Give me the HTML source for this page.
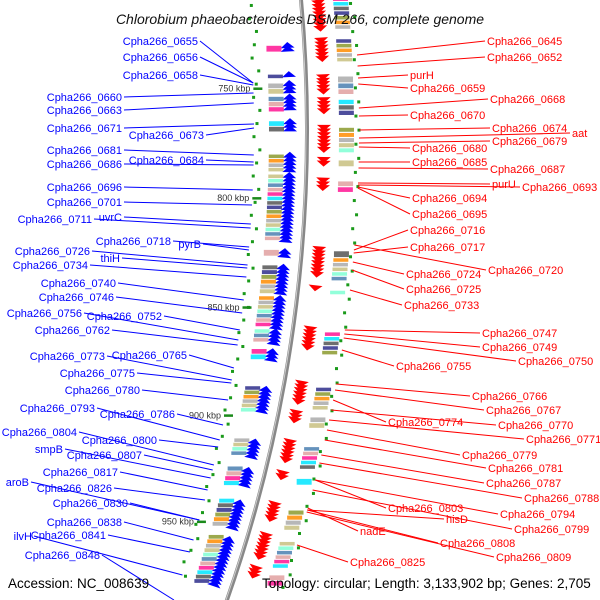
<!DOCTYPE html>
<html><head><meta charset="utf-8"><style>
body{margin:0;background:#fff}
svg{display:block}
text{font-family:"Liberation Sans",sans-serif}
</style></head><body>
<svg id="c" width="600" height="600" viewBox="0 0 600 600">
<rect width="600" height="600" fill="#fff"/>
<g id="feat"></g>
<g id="labs"></g>
<text x="300" y="24" text-anchor="middle" font-size="14" font-style="italic" fill="#111">Chlorobium phaeobacteroides DSM 266, complete genome</text>
<text x="8" y="588" font-size="13.5" fill="#000">Accession: NC_008639</text>
<text x="262" y="588" font-size="13.5" fill="#000">Topology: circular; Length: 3,133,902 bp; Genes: 2,705</text>
</svg>
<script>
const CX=-1113, CY=130, R=1420;
const tickKbp=[750,800,850,900,950];
const fwdGenes=[[712,725],[730,739],[746,748],[749,753],[756,762],[768,778],[782,784],[791,795],[821,823],[824,833],[838,839],[856,865],[880,889],[893,897],[906,915],[920,922],[934,942],[948,959],[963,967]];
const revGenes=[[731,733],[744,745],[748,752],[754,760],[765,769],[780,787],[789,818],[823,825],[830,842],[844,857],[859,864],[868,872],[885,896],[909,916],[922,930],[937,949],[954,976]];
const boxColors=['#ff1493','#00e5ff','#555','#2e2e8b','#8b9a2e','#ff8c00','#aaa','#c8c080','#7fffd4','#4a7fb0','#e0a0a0'];
const leftLabels=[["Cpha266_0655",198,45,83],["Cpha266_0656",198,61,83],["Cpha266_0658",198,79,85],["Cpha266_0660",122,101,93],["Cpha266_0663",122,114,103],["Cpha266_0671",122,132,124],["Cpha266_0673",204,139,128],["Cpha266_0681",122,154,155],["Cpha266_0686",122,168,165],["Cpha266_0684",204,164,162],["Cpha266_0696",122,191,190],["Cpha266_0701",122,206,205],["Cpha266_0711",92,223,228],["uvrC",122,221,224],["Cpha266_0718",171,245,247],["pyrB",201,248,250],["Cpha266_0726",90,255,265],["thiH",120,262,268],["Cpha266_0734",88,269,277],["Cpha266_0740",116,287,300],["Cpha266_0746",114,301,313],["Cpha266_0756",82,317,340],["Cpha266_0752",162,320,330],["Cpha266_0762",110,334,345],["Cpha266_0773",105,360,380],["Cpha266_0765",187,359,368],["Cpha266_0775",135,377,383],["Cpha266_0780",140,394,400],["Cpha266_0793",95,412,440],["Cpha266_0786",175,418,425],["Cpha266_0804",77,436,465],["Cpha266_0800",157,444,447],["smpB",63,453,478],["Cpha266_0807",142,459,470],["Cpha266_0817",118,476,490],["aroB",29,486,520],["Cpha266_0826",112,492,500],["Cpha266_0830",128,507,520],["Cpha266_0838",122,526,540],["ilvH",32,540,575],["Cpha266_0841",106,539,552],["Cpha266_0848",100,559,600]];
const rightLabels=[["Cpha266_0645",487,45,55],["Cpha266_0652",487,61,66],["purH",410,79,78],["Cpha266_0659",410,92,84],["Cpha266_0668",490,103,108],["Cpha266_0670",410,119,116],["Cpha266_0674",492,132,130],["aat",572,137,138],["Cpha266_0679",492,145,143],["Cpha266_0680",412,152,147],["Cpha266_0685",412,166,162],["Cpha266_0687",490,173,168],["purU",492,188,183],["Cpha266_0693",522,191,185],["Cpha266_0694",412,202,187],["Cpha266_0695",412,218,188],["Cpha266_0716",410,234,250],["Cpha266_0717",410,251,253],["Cpha266_0720",488,274,245],["Cpha266_0724",406,278,262],["Cpha266_0725",406,293,270],["Cpha266_0733",404,309,290],["Cpha266_0747",482,337,330],["Cpha266_0749",482,351,334],["Cpha266_0750",518,365,338],["Cpha266_0755",396,370,350],["Cpha266_0766",472,400,384],["Cpha266_0767",486,414,390],["Cpha266_0774",388,426,400],["Cpha266_0770",498,429,410],["Cpha266_0771",526,443,420],["Cpha266_0779",462,459,430],["Cpha266_0781",488,472,440],["Cpha266_0787",486,487,455],["Cpha266_0788",524,502,463],["Cpha266_0803",388,512,480],["Cpha266_0794",500,518,480],["hisD",446,523,510],["Cpha266_0799",514,533,490],["nadE",360,535,508],["Cpha266_0808",440,547,510],["Cpha266_0809",496,561,512],["Cpha266_0825",350,566,545]];

const NS='http://www.w3.org/2000/svg';
const feat=document.getElementById('feat'), labs=document.getElementById('labs');
function ang(k){return ((k-750)*2.27-43)/R;}
function pt(k,off){const a=ang(k);return [CX+(R+off)*Math.cos(a),CY+(R+off)*Math.sin(a)];}
function bx(y){return CX+Math.sqrt(R*R-(y-CY)*(y-CY));}
function mk(tag,attrs,parent){const e=document.createElementNS(NS,tag);for(const k in attrs)e.setAttribute(k,attrs[k]);parent.appendChild(e);return e;}

const bb=mk('path',{d:`M ${bx(-5)} -5 A ${R} ${R} 0 0 1 ${bx(605)} 605`,fill:'none',stroke:'#888','stroke-width':4},feat);


mk('path',{d:`M ${bx(-5)-1} -5 A ${R} ${R} 0 0 1 ${bx(605)-1} 605`,fill:'none',stroke:'#ccc','stroke-width':1},feat);

function genes(list,side,color,name,boxOff){
  list.forEach((g,i)=>{
    const grp=mk('g',{},feat);
    
    
    for(let k=g[0];k<=g[1];k+=1.6){
      const a=ang(k), d=side>0?1:-1;
      const c=pt(k,side*17);
      const tx=-Math.sin(a), ty=Math.cos(a);
      const nx=Math.cos(a), ny=Math.sin(a);
      const p1=[c[0]+nx*7-tx*3*d,c[1]+ny*7-ty*3*d], p2=[c[0]-nx*7-tx*3*d,c[1]-ny*7-ty*3*d], p3=[c[0]+tx*3*d,c[1]+ty*3*d];
      mk('polygon',{points:[p1,p2,p3].map(p=>p.join(',')).join(' '),fill:color},grp);
    }
    const n=Math.max(1,Math.round((g[1]-g[0])/2));
    for(let j=0;j<n;j++){
      const k0=g[0]+j*(g[1]-g[0]+1)/n, h=Math.max(2.5,(g[1]-g[0]+1)/n*2.27-1);
      const p=pt(k0,boxOff);
      mk('rect',{x:p[0]-7,y:p[1],width:15,height:h,fill:boxColors[(i*3+j)%boxColors.length],opacity:0.85},grp);
    }
  });
}
genes(fwdGenes,1,'#f00','forward-gene',39);
genes(revGenes,-1,'#00f','reverse-gene',-31);
for(let k=712;k<=980;k+=6){
  const p=pt(k,-45-((k/6)%3)*3);
  mk('rect',{x:p[0]-1.5,y:p[1]-1.5,width:3,height:3,fill:'#1a9a1a'},feat);
  const q=pt(k+3,47+((k/6)%2)*3);
  mk('rect',{x:q[0]-1.5,y:q[1]-1.5,width:3,height:3,fill:'#1a9a1a'},feat);
}
tickKbp.forEach(k=>{
  const p=pt(k,-48);
  const l=mk('rect',{x:p[0]-5,y:p[1]-1,width:9,height:2.5,fill:'#1a8a1a'},feat);
  
  
  const t=mk('text',{x:p[0]-8,y:p[1]+3,'font-size':9,'text-anchor':'end',fill:'#333'},feat);
  t.textContent=k+' kbp';
  
  
});
leftLabels.forEach(L=>{
  const tx=bx(L[3])-53;
  mk('line',{x1:L[1]+2,y1:L[2]-4,x2:tx,y2:L[3],stroke:'#00f','stroke-width':1},labs);
  const t=mk('text',{x:L[1],y:L[2],'font-size':11,'text-anchor':'end',fill:'#00f'},labs);
  t.textContent=L[0];
  
  
});
rightLabels.forEach(L=>{
  const tx=bx(L[3])+52;
  mk('line',{x1:tx,y1:L[3],x2:L[1]-2,y2:L[2]-4,stroke:'#f00','stroke-width':1},labs);
  const t=mk('text',{x:L[1],y:L[2],'font-size':11,fill:'#f00'},labs);
  t.textContent=L[0];
  
  
});
</script>
</body></html>
